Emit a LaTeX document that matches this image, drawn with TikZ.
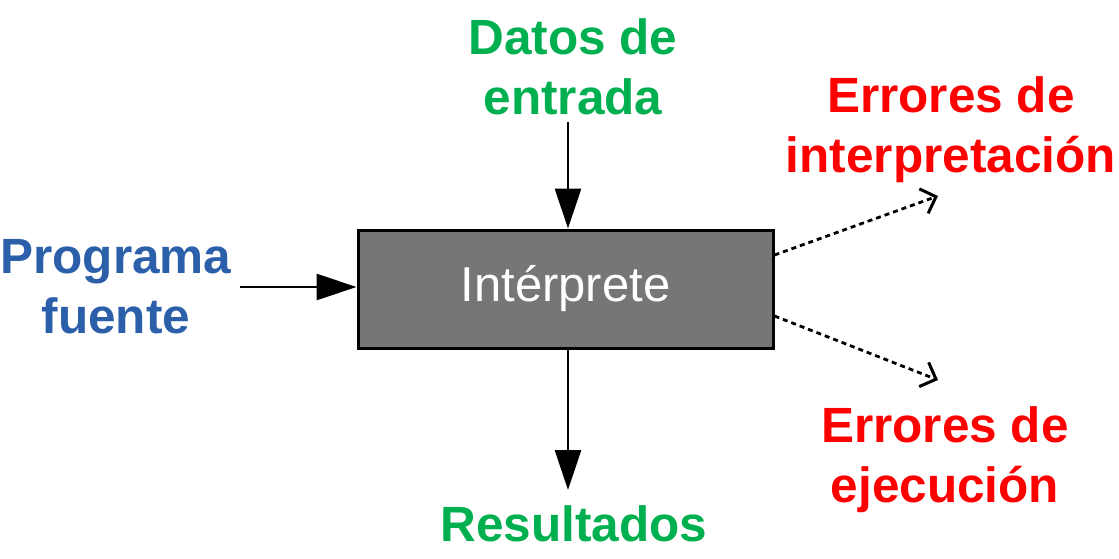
\documentclass[tikz,border=0pt]{standalone}
\usepackage{fontspec}
\setmainfont{Liberation Sans}
\usetikzlibrary{arrows.meta}
\definecolor{lblgreen}{HTML}{00B050}
\definecolor{lblblue}{HTML}{2B5FAA}
\definecolor{lblred}{HTML}{FF0000}
\definecolor{boxgray}{HTML}{767676}
\tikzset{
  lbl/.style={align=center, inner sep=0pt, font=\fontsize{49.5}{60}\selectfont\bfseries},
  mainbox/.style={draw=black, line width=3pt, fill=boxgray, minimum width=415pt, minimum height=118pt, inner sep=0pt, text=white, font=\fontsize{49}{60}\selectfont},
  solidarrow/.style={line width=2.8pt, -{Triangle[length=40pt, width=26pt]}},
  dotarrow/.style={line width=2.8pt, dash pattern=on 5pt off 4pt, -{Straight Barb[length=13pt, width=26pt, line width=3pt]}}
}
\begin{document}
\begin{tikzpicture}[x=1pt, y=-1pt]
\useasboundingbox (0,0) rectangle (1119,559);
\node[mainbox] (box) at (565.5,289) {Intérprete};
\node[lbl, text=lblgreen] (datos) at (573,67) {Datos de\\entrada};
\node[lbl, text=lblblue] (prog) at (116,287) {Programa\\fuente};
\node[lbl, text=lblred] (errint) at (951,130) {Errores de\\interpretación};
\node[lbl, text=lblred] (erreje) at (945,460) {Errores de\\ejecución};
\node[lbl, text=lblgreen] (res) at (574,524) {Resultados};
\coordinate (dIn) at (568,122);
\coordinate (pIn) at (240,287);
\coordinate (rOut) at (568,490);
\coordinate (eiTip) at (938,196);
\coordinate (eeTip) at (938,380);
\draw[solidarrow] (dIn) -- (dIn |- box.north);
\draw[solidarrow] (pIn) -- (pIn -| box.west);
\draw[solidarrow] (rOut |- box.south) -- (rOut);
\draw[dotarrow] (box.east |- 0,255) -- (eiTip);
\draw[dotarrow] (box.east |- 0,316) -- (eeTip);
\end{tikzpicture}
\end{document}
